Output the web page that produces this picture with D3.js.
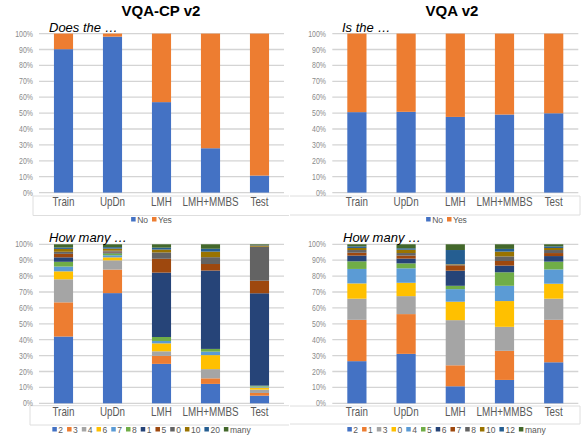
<!DOCTYPE html>
<html>
<head>
<meta charset="utf-8">
<script src="https://cdn.jsdelivr.net/npm/d3@7"></script>
<style>
  html, body { margin: 0; padding: 0; background: #fff; }
  svg { display: block; }
</style>
</head>
<body>
<svg id="chart" width="585" height="439"></svg>
<script>
// ── Data ──────────────────────────────────────────────────────────────────────
const MODELS = ['Train', 'UpDn', 'LMH', 'LMH+MMBS', 'Test'];

const YESNO_KEYS = ['No', 'Yes'];
// rows follow MODELS, columns follow YESNO_KEYS (percent)
const CP_YESNO = [[90.2, 9.8], [98.1, 1.9], [56.9, 43.1], [27.9, 72.1], [10.7, 89.3]];
const V2_YESNO = [[50.6, 49.4], [50.8, 49.2], [47.6, 52.4], [49.1, 50.9], [49.9, 50.1]];

const CP_COUNT_KEYS = ['2', '3', '4', '6', '7', '8', '1', '5', '0', '10', '20', 'many'];
const CP_COUNT = [
  [42.0, 21.5, 14.5, 5.0, 3.0, 3.0, 2.8, 2.2, 1.3, 1.8, 0.9, 2.0],
  [69.3, 14.8, 5.8, 1.9, 1.3, 1.2, 0.6, 0.5, 0.6, 1.3, 0.9, 1.8],
  [24.8, 5.0, 2.9, 5.0, 1.5, 2.5, 40.5, 8.7, 4.0, 1.8, 1.2, 2.1],
  [12.2, 3.5, 5.8, 8.8, 2.2, 1.7, 49.3, 4.1, 4.3, 3.5, 1.8, 2.8],
  [4.8, 1.7, 2.1, 1.3, 0.6, 0.6, 58.1, 7.9, 21.4, 0.8, 0.3, 0.4],
];

const V2_COUNT_KEYS = ['2', '1', '3', '0', '4', '5', '6', '7', '8', '10', '12', 'many'];
const V2_COUNT = [
  [26.5, 26.0, 13.3, 9.6, 9.1, 4.8, 3.6, 1.8, 1.7, 1.3, 1.0, 1.3],
  [31.1, 25.0, 11.3, 8.4, 9.1, 3.1, 3.0, 1.9, 1.6, 2.1, 0.9, 2.5],
  [10.7, 13.2, 28.4, 11.6, 7.9, 2.1, 9.5, 3.4, 0.4, 0.3, 8.9, 3.6],
  [14.7, 18.3, 15.1, 16.2, 9.6, 8.5, 4.2, 2.9, 2.9, 3.0, 1.7, 2.9],
  [25.8, 26.7, 13.3, 9.4, 9.0, 4.9, 3.5, 1.9, 1.9, 1.3, 1.0, 1.3],
];

// ── Constants ─────────────────────────────────────────────────────────────────
const PALETTE = ['#4472C4', '#ED7D31', '#A5A5A5', '#FFC000', '#5B9BD5', '#70AD47',
                 '#264478', '#9E480E', '#636363', '#997300', '#255E91', '#43682B'];
const SANS    = '"Liberation Sans", Arial, sans-serif';
const NARROW  = 0.82;          // horizontal squeeze to mimic a narrow face
const GRID    = '#d4d4d4';
const BOX     = '#dedede';

const PANELS = [
  { title: 'VQA-CP v2', titleX: 161, sub: 'Does the …', subX: 49,
    left: 39, right: 284, top: 33.6, bottom: 192.6, tickX: 33,
    keys: YESNO_KEYS, rows: CP_YESNO, legendX: 151.5, legendY: 222.5,
    box: 'M289,196H33V215.5H289' },
  { title: 'VQA v2', titleX: 452, sub: 'Is the …', subX: 342,
    left: 332.3, right: 578.3, top: 33.6, bottom: 192.6, tickX: 326,
    keys: YESNO_KEYS, rows: V2_YESNO, legendX: 446.5, legendY: 222.5,
    box: 'M290,196H580V215H290' },
  { title: null, sub: 'How many …', subX: 49,
    left: 39, right: 284, top: 244.3, bottom: 403.3, tickX: 33,
    keys: CP_COUNT_KEYS, rows: CP_COUNT, legendX: 151.5, legendY: 432.5,
    box: 'M289,405.7H30V425H289' },
  { title: null, sub: 'How many …', subX: 343,
    left: 332.3, right: 578.3, top: 244.3, bottom: 403.3, tickX: 326,
    keys: V2_COUNT_KEYS, rows: V2_COUNT, legendX: 446.5, legendY: 432.5,
    box: 'M290,406H580V424H290' },
];

const svg = d3.select('#chart');

// ── Panel ─────────────────────────────────────────────────────────────────────
function drawPanel(p) {
  const g = svg.append('g');

  const x = d3.scaleBand().domain(MODELS).range([p.left, p.right])
    .paddingInner(0.61).paddingOuter(0.305);
  const y = d3.scaleLinear().domain([0, 1]).range([p.bottom, p.top]);

  // box under the axis (chart area border remnant)
  g.append('path').attr('d', p.box).attr('fill', 'none')
    .attr('stroke', BOX).attr('stroke-width', 1);

  // gridlines + y labels
  const ticks = y.ticks(10);
  g.selectAll('line.grid').data(ticks).join('line')
    .attr('class', 'grid')
    .attr('x1', p.left).attr('x2', p.right)
    .attr('y1', d => y(d)).attr('y2', d => y(d))
    .attr('stroke', GRID).attr('stroke-width', 1.3);
  g.selectAll('text.ytick').data(ticks).join('text')
    .attr('class', 'ytick')
    .attr('transform', d => `translate(${p.tickX},${y(d) + 3}) scale(${NARROW},1)`)
    .attr('text-anchor', 'end')
    .attr('font-family', SANS).attr('font-size', 8.5)
    .attr('fill', '#8a8a8a')
    .text(d3.format('.0%'));

  // stacked bars
  const table = MODELS.map((m, i) => {
    const row = { model: m };
    p.keys.forEach((k, j) => { row[k] = p.rows[i][j] / 100; });
    return row;
  });
  const series = d3.stack().keys(p.keys)(table);
  g.selectAll('g.series').data(series).join('g')
    .attr('class', 'series')
    .attr('fill', (d, i) => PALETTE[i])
    .selectAll('rect').data(d => d).join('rect')
      .attr('x', d => x(d.data.model))
      .attr('width', x.bandwidth())
      .attr('y', d => y(d[1]))
      .attr('height', d => Math.max(0, y(d[0]) - y(d[1])));

  // x labels
  g.selectAll('text.xlab').data(MODELS).join('text')
    .attr('class', 'xlab')
    .attr('transform', d =>
      `translate(${x(d) + x.bandwidth() / 2},${p.bottom + 13}) scale(${NARROW},1)`)
    .attr('text-anchor', 'middle')
    .attr('font-family', SANS).attr('font-size', 12)
    .attr('fill', '#595959')
    .text(d => d);

  // titles
  if (p.title) {
    g.append('text').attr('x', p.titleX).attr('y', 15.8)
      .attr('text-anchor', 'middle')
      .attr('font-family', SANS).attr('font-size', 15).attr('font-weight', 'bold')
      .attr('fill', '#000').text(p.title);
  }
  g.append('text').attr('x', p.subX).attr('y', p.top - 2)
    .attr('font-family', SANS).attr('font-size', 13).attr('font-style', 'italic')
    .attr('fill', '#000').text(p.sub);

  drawLegend(g, p.keys, p.legendX, p.legendY);
}

// ── Legend ────────────────────────────────────────────────────────────────────
function drawLegend(g, keys, cx, baseY) {
  const lg = g.append('g');
  const SW = 4.5, GAP = 1.5, ITEM_GAP = 4;
  let cursor = 0;
  keys.forEach((k, i) => {
    lg.append('rect').attr('x', cursor).attr('y', baseY - 5.5)
      .attr('width', SW).attr('height', SW).attr('fill', PALETTE[i]);
    const t = lg.append('text').attr('x', cursor + SW + GAP).attr('y', baseY)
      .attr('font-family', SANS).attr('font-size', 8.5)
      .attr('fill', '#595959').text(k);
    cursor += SW + GAP + t.node().getComputedTextLength() + ITEM_GAP;
  });
  const w = cursor - ITEM_GAP;
  lg.attr('transform', `translate(${cx - w / 2},0)`);
}

PANELS.forEach(drawPanel);
</script>
</body>
</html>
